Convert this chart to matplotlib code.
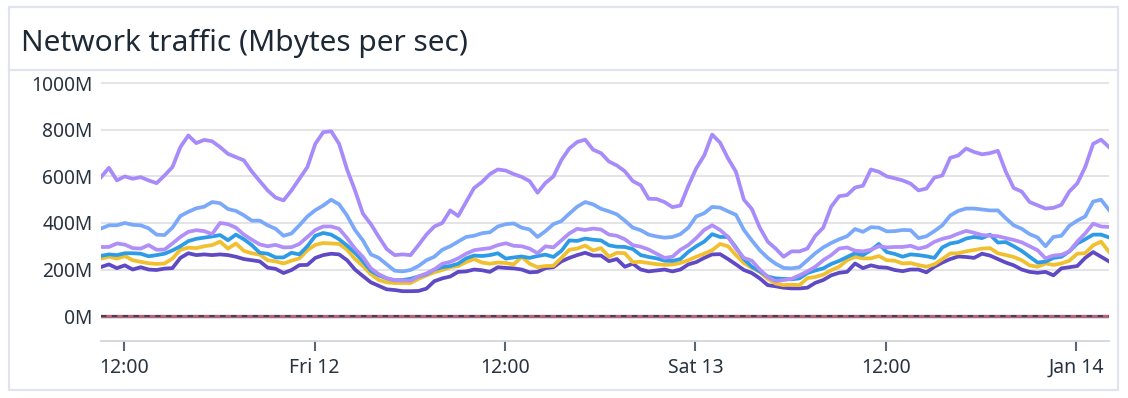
import numpy as np
import pandas as pd
import matplotlib
matplotlib.use("Agg")
import matplotlib.pyplot as plt
import matplotlib.transforms as mtransforms
from matplotlib.patches import Rectangle
from matplotlib.lines import Line2D

plt.rcParams['font.family'] = ['Noto Sans', 'DejaVu Sans']

# half-hourly samples, Thu Jan 11 10:33 -> Sun Jan 14 ~02:00 (values in Mbytes/s)
start_time = '2024-01-11 10:33'
n_points = 128

top_traffic = [597, 637, 583, 600, 590, 597, 583, 571, 604, 640, 726, 776, 743, 757, 751, 726,
               697, 683, 669, 621, 580, 540, 509, 497, 540, 590, 640, 740, 790, 794, 740, 630,
               540, 440, 395, 340, 288, 262, 265, 262, 305, 350, 385, 400, 454, 430, 490, 550,
               576, 610, 630, 625, 610, 598, 580, 530, 572, 600, 670, 720, 748, 758, 715, 700,
               664, 647, 622, 580, 562, 504, 503, 490, 468, 475, 560, 635, 690, 780, 745, 677,
               620, 500, 460, 380, 320, 290, 255, 278, 278, 290, 345, 380, 470, 515, 520, 552,
               560, 630, 620, 600, 592, 583, 569, 540, 548, 595, 604, 680, 690, 720, 705, 695,
               700, 710, 620, 550, 535, 490, 476, 462, 465, 478, 535, 570, 640, 740, 758, 726]

second_traffic = [376, 390, 390, 400, 392, 390, 377, 350, 348, 380, 430, 448, 463, 470, 490, 485,
                  460, 452, 433, 410, 410, 390, 375, 345, 355, 390, 428, 455, 475, 500, 480, 432,
                  370, 325, 265, 250, 222, 195, 192, 198, 215, 240, 255, 285, 300, 320, 340, 345,
                  356, 360, 385, 395, 398, 380, 372, 340, 365, 395, 408, 440, 470, 490, 480, 461,
                  450, 437, 410, 380, 369, 350, 342, 337, 340, 352, 380, 428, 442, 469, 466, 450,
                  435, 370, 325, 283, 250, 225, 207, 205, 210, 240, 270, 295, 314, 330, 343, 374,
                  362, 382, 380, 364, 365, 370, 369, 335, 343, 365, 390, 432, 452, 462, 462, 458,
                  454, 454, 420, 390, 375, 352, 338, 300, 340, 345, 388, 410, 428, 492, 500, 456]

third_traffic = [297, 297, 312, 307, 292, 290, 305, 285, 286, 312, 340, 362, 369, 365, 352, 400,
                 395, 380, 350, 328, 308, 300, 306, 295, 296, 310, 340, 370, 385, 385, 375, 335,
                 290, 254, 205, 180, 163, 154, 153, 152, 170, 183, 200, 225, 233, 248, 268, 283,
                 288, 292, 305, 313, 302, 300, 290, 270, 300, 295, 325, 355, 375, 370, 376, 372,
                 350, 345, 330, 305, 298, 286, 268, 250, 255, 285, 305, 335, 370, 390, 370, 340,
                 290, 250, 238, 200, 168, 150, 155, 160, 175, 192, 212, 240, 262, 290, 295, 281,
                 278, 285, 300, 295, 297, 297, 302, 290, 298, 319, 332, 340, 354, 366, 358, 348,
                 346, 343, 335, 327, 317, 300, 283, 248, 260, 263, 278, 320, 355, 397, 385, 383]

fourth_traffic = [259, 265, 262, 270, 270, 268, 257, 262, 268, 282, 300, 322, 332, 337, 342, 348,
                  326, 350, 330, 305, 272, 268, 252, 252, 272, 265, 300, 345, 357, 350, 330, 303,
                  272, 235, 195, 175, 162, 154, 155, 160, 170, 180, 200, 210, 215, 225, 248, 260,
                  258, 262, 270, 247, 252, 256, 250, 258, 264, 254, 280, 325, 323, 333, 328, 325,
                  304, 298, 297, 288, 262, 254, 248, 238, 237, 245, 276, 300, 320, 352, 340, 340,
                  295, 245, 212, 192, 170, 162, 160, 158, 162, 185, 196, 205, 224, 237, 254, 270,
                  262, 283, 310, 275, 267, 255, 265, 262, 257, 250, 295, 312, 318, 333, 340, 335,
                  350, 316, 318, 300, 280, 255, 230, 234, 250, 255, 278, 312, 330, 350, 350, 338]

fifth_traffic = [247, 255, 247, 258, 240, 233, 227, 224, 226, 247, 285, 294, 292, 300, 305, 320,
                 290, 312, 280, 270, 264, 240, 235, 226, 238, 248, 283, 306, 314, 312, 310, 285,
                 245, 215, 180, 155, 145, 142, 142, 142, 160, 175, 188, 198, 210, 215, 232, 245,
                 230, 225, 230, 228, 222, 255, 225, 210, 215, 216, 250, 285, 290, 303, 282, 292,
                 255, 272, 270, 232, 233, 228, 223, 220, 222, 228, 240, 255, 268, 283, 310, 300,
                 262, 228, 208, 190, 160, 140, 133, 135, 133, 163, 168, 178, 197, 212, 240, 255,
                 248, 248, 258, 240, 238, 226, 228, 219, 212, 222, 245, 269, 270, 278, 284, 290,
                 292, 270, 262, 254, 240, 218, 212, 226, 220, 226, 238, 268, 270, 304, 320, 276]

sixth_traffic = [211, 222, 206, 218, 200, 210, 200, 198, 204, 206, 250, 270, 262, 265, 262, 265,
                 262, 255, 245, 240, 235, 208, 203, 185, 198, 219, 220, 250, 262, 268, 265, 240,
                 200, 172, 145, 130, 115, 112, 107, 107, 108, 118, 150, 162, 170, 190, 192, 200,
                 197, 190, 210, 207, 205, 200, 188, 190, 206, 210, 235, 250, 262, 272, 260, 260,
                 236, 245, 212, 225, 200, 192, 196, 200, 192, 200, 222, 232, 250, 265, 266, 245,
                 222, 198, 185, 162, 133, 128, 122, 119, 119, 122, 143, 155, 175, 186, 190, 226,
                 206, 218, 210, 208, 198, 193, 200, 200, 188, 212, 230, 245, 256, 254, 250, 268,
                 260, 245, 230, 218, 200, 190, 186, 190, 175, 205, 210, 215, 250, 275, 255, 235]

# idle interfaces sitting at zero
errors_in = [0] * n_points
errors_out = [0] * n_points
dropped = [0] * n_points

y_ticks = [0, 200, 400, 600, 800, 1000]
y_labels = ['0M', '200M', '400M', '600M', '800M', '1000M']
x_ticks = ['2024-01-11 12:00', '2024-01-12 00:00', '2024-01-12 12:00',
           '2024-01-13 00:00', '2024-01-13 12:00', '2024-01-14 00:00']
x_labels = ['12:00', 'Fri 12', '12:00', 'Sat 13', '12:00', 'Jan 14']

times = pd.date_range(start_time, periods=n_points, freq='30min')

W, H = 1128, 398
fig = plt.figure(figsize=(W / 100, H / 100), dpi=100)

# card frame + title strip
fig.patches.append(Rectangle((9 / W, 8 / H), 1109 / W, 383 / H, transform=fig.transFigure,
                             facecolor='none', edgecolor='#e1e4ee', linewidth=1.6))
fig.lines.append(Line2D([9 / W, 1118 / W], [1 - 70 / H, 1 - 70 / H], transform=fig.transFigure,
                        color='#e1e4ee', linewidth=1.6))
fig.text(21 / W, 1 - 43 / H, 'Network traffic (Mbytes per sec)', fontsize=21.5,
         color='#1d2a36', va='center', ha='left')

ax = fig.add_axes([101 / W, 1 - 341 / H, 1008 / W, 267 / H])

series = [
    (sixth_traffic, '#5f49c4'),
    (fifth_traffic, '#f1c02f'),
    (fourth_traffic, '#2e9be7'),
    (third_traffic, '#b08ff8'),
    (second_traffic, '#7aa9f9'),
    (top_traffic, '#a78bfa'),
]
for values, color in series:
    ax.plot(times, values, color=color, linewidth=2.7, solid_joinstyle='round', zorder=3)

# zero lines: blue peeks out just under the pink one
below = mtransforms.offset_copy(ax.transData, fig=fig, x=0, y=-1.2, units='dots')
ax.plot(times, errors_out, color='#5b8ff0', linewidth=1.6, zorder=3, transform=below)
ax.plot(times, errors_in, color='#b3677a', linewidth=2.4, zorder=4)
ax.plot(times, dropped, color='#34414f', linewidth=1.3, linestyle=(0, (3, 3)), zorder=5)

ax.set_xlim(times[0], times[-1])
ax.set_ylim(-107, 1040)

ax.set_yticks(y_ticks)
ax.set_yticklabels(y_labels)
ax.set_xticks(pd.to_datetime(x_ticks))
ax.set_xticklabels(x_labels)

ax.grid(axis='y', color='#e4e4e6', linewidth=1.4)
ax.set_axisbelow(True)
for side in ['left', 'right', 'top']:
    ax.spines[side].set_visible(False)
ax.spines['bottom'].set_color('#d3d6dd')
ax.spines['bottom'].set_linewidth(1.3)

ax.tick_params(axis='y', length=0, pad=6, labelsize=13.8, labelcolor='#27333f')
ax.tick_params(axis='x', length=7, width=1.5, color='#5d6773', pad=5,
               labelsize=14, labelcolor='#27333f')

fig.savefig('out.png', dpi=100)
